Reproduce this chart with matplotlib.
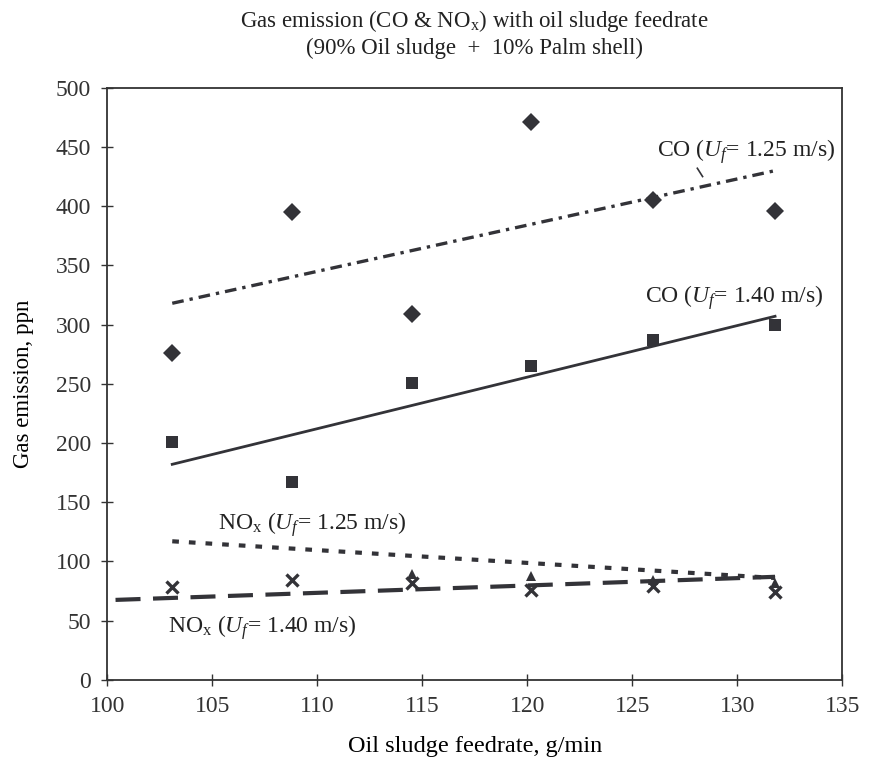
import numpy as np
import matplotlib
matplotlib.use("Agg")
import matplotlib.pyplot as plt

plt.rcParams.update({'font.family': 'Liberation Serif',
                     'mathtext.fontset': 'custom',
                     'mathtext.rm': 'Liberation Serif',
                     'mathtext.it': 'Liberation Serif:italic',
                     'font.size': 16,
                     'text.color': '#222222',
                     'axes.edgecolor': '#333333',
                     'axes.linewidth': 1.3,
                     'xtick.direction': 'inout',
                     'ytick.direction': 'inout',
                     'xtick.major.size': 9,
                     'ytick.major.size': 9,
                     'xtick.major.width': 1.0,
                     'ytick.major.width': 1.0,
                     'xtick.color': '#333333',
                     'ytick.color': '#333333'})

# data
feed = [103.1, 108.8, 114.5, 120.2, 126.0, 131.8]
co_125 = [276, 395, 309, 471, 405, 396]
co_140 = [201, 167, 251, 265, 287, 300]
nox_140 = [78, 84, 82, 76, 79, 74]
feed_tri = [114.5, 120.2, 126.0, 131.8]
nox_125 = [89, 88, 84, 82]

# trend lines (end points)
trend_x = [103.1, 131.8]
co_125_fit = [318, 430]
co_140_fit = [182, 307]
nox_125_fit = [117, 86]
nox_140_x = [100.4, 131.8]
nox_140_fit = [67.5, 87]

c = '#333338'
fig, ax = plt.subplots(figsize=(8.71, 7.63), dpi=100)
plt.subplots_adjust(left=0.123, right=0.967, bottom=0.109, top=0.885)

ax.plot(trend_x, co_125_fit, color=c, lw=2.4, dashes=(3.5, 1.8, 1, 1.8))
ax.plot(trend_x, co_140_fit, color=c, lw=2.0, linestyle='-')
ax.plot(trend_x, nox_125_fit, color=c, lw=3.0, dashes=(1.6, 2.4))
ax.plot(nox_140_x, nox_140_fit, color=c, lw=3.0, dashes=(6, 3))
# little leader mark under the CO 1.25 label
ax.plot([128.1, 128.35], [432, 425], color=c, lw=1.2)

ax.plot(feed, co_125, 'D', color=c, ms=9, mew=0)
ax.plot(feed, co_140, 's', color=c, ms=9, mew=0)
ax.plot(feed_tri, nox_125, '^', color=c, ms=7, mew=0)
ax.plot(feed, nox_140, 'x', color=c, ms=8, mew=2.4)

ax.text(126.2, 446, r'CO ($U_f$= 1.25 m/s)', fontsize=17, va='center')
ax.text(125.6, 323, r'CO ($U_f$= 1.40 m/s)', fontsize=17, va='center')
ax.text(105.3, 131, r'NO$_\mathrm{x}$ ($U_f$= 1.25 m/s)', fontsize=17, va='center')
ax.text(102.9, 44, r'NO$_\mathrm{x}$ ($U_f$= 1.40 m/s)', fontsize=17, va='center')

ax.set_xlim(100, 135)
ax.set_ylim(0, 500)
ax.set_xticks(np.arange(100, 136, 5))
ax.set_yticks(np.arange(0, 501, 50))
ax.tick_params(labelsize=17, pad=7)
ax.set_xlabel('Oil sludge feedrate, g/min', fontsize=17.5, labelpad=14)
ax.set_ylabel('Gas emission, ppn', fontsize=16.5, labelpad=16)
ax.set_title('Gas emission (CO & NO$_\\mathrm{x}$) with oil sludge feedrate\n'
             '(90% Oil sludge  +  10% Palm shell)', fontsize=16.5, pad=24,
             linespacing=1.25)

fig.savefig('out.png', dpi=100)
